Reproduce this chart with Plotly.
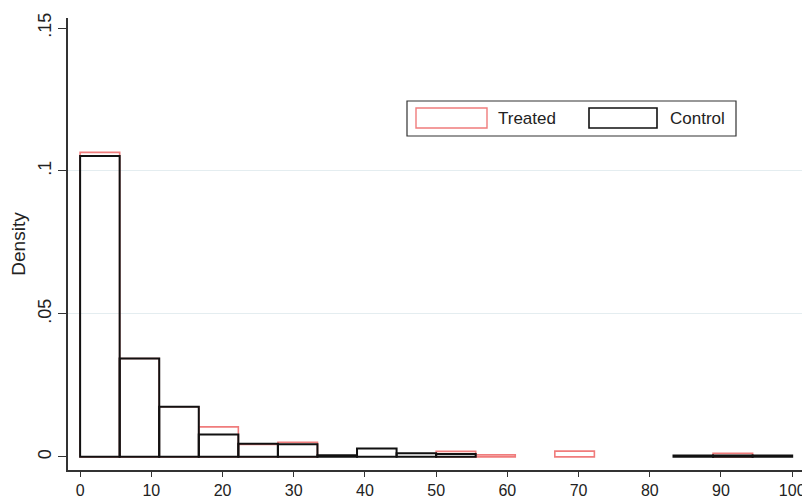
import plotly.graph_objects as go

# Histogram bins: 18 bins of width 100/18 over 0-100
n_bins = 18
bin_width = 100 / n_bins
bin_centers = [bin_width * (i + 0.5) for i in range(n_bins)]

# Densities (None = no bar)
treated = [0.1065, 0.0344, 0.0175, 0.0105, 0.0043, 0.0051, None, None, None,
           0.0019, 0.0007, None, 0.0020, None, None, None, 0.0012, None]
control = [0.1052, 0.0344, 0.0175, 0.0078, 0.0046, 0.0044, 0.0006, 0.0029, 0.0013,
           0.0010, None, None, None, None, None, 0.0005, 0.0005, 0.0005]

series_names = ["Treated", "Control"]
series_colors = ["#f07c7c", "#111111"]

x_ticks = [0, 10, 20, 30, 40, 50, 60, 70, 80, 90, 100]
y_ticks = [0, 0.05, 0.10, 0.15]
y_tick_labels = ["0", ".05", ".1", ".15"]
grid_values = [0.05, 0.10]

y_range = [-0.0046, 0.1535]

fig = go.Figure()
# invisible anchor trace for the grid axis (drawn beneath)
fig.add_trace(go.Scatter(x=[None], y=[None], yaxis="y2", showlegend=False, hoverinfo="skip"))
for name, vals, col, lw in zip(series_names, [treated, control], series_colors, [1.6, 2.0]):
    fig.add_trace(go.Bar(
        x=bin_centers, y=vals, width=bin_width, name=name, showlegend=False,
        marker=dict(color="rgba(0,0,0,0)", line=dict(color=col, width=lw)),
    ))

FONT = "Liberation Sans, Arial, Helvetica, sans-serif"

# The page body has an 8px margin, so the figure starts at (8, 8) in the window.
OFF = 8
W, H = 810 - OFF, 499 - OFF
PL, PR, PT, PB = 68, 805, 18, 470  # plot area in window pixels


def px(xp):
    return (xp - PL) / (PR - PL)


def py(yp):
    return 1 - (yp - PT) / (PB - PT)


shapes = [
    dict(type="rect", xref="paper", yref="paper", x0=px(407), x1=px(736), y0=py(136), y1=py(101),
         line=dict(color="#333333", width=1.2), fillcolor="white", layer="above"),
    dict(type="rect", xref="paper", yref="paper", x0=px(416), x1=px(487), y0=py(128), y1=py(108),
         line=dict(color=series_colors[0], width=1.4), fillcolor="rgba(0,0,0,0)", layer="above"),
    dict(type="rect", xref="paper", yref="paper", x0=px(589), x1=px(657), y0=py(128), y1=py(108),
         line=dict(color=series_colors[1], width=1.6), fillcolor="rgba(0,0,0,0)", layer="above"),
]
annotations = [
    dict(xref="paper", yref="paper", x=px(496), y=py(118), text=series_names[0], showarrow=False,
         xanchor="left", yanchor="middle", font=dict(family=FONT, size=17, color="#222222")),
    dict(xref="paper", yref="paper", x=px(668), y=py(118), text=series_names[1], showarrow=False,
         xanchor="left", yanchor="middle", font=dict(family=FONT, size=17, color="#222222")),
]

fig.update_layout(
    width=W, height=H,
    margin=dict(l=PL - OFF, r=810 - PR, t=PT - OFF, b=499 - PB),
    paper_bgcolor="white", plot_bgcolor="white",
    barmode="overlay",
    font=dict(family=FONT, size=18, color="#222222"),
    showlegend=False,
    shapes=shapes,
    annotations=annotations,
    xaxis=dict(
        range=[-1.7, 101.8], tickvals=x_ticks, ticks="outside", ticklen=5,
        tickcolor="#333333", tickwidth=1.3, showline=True, linecolor="#333333",
        linewidth=1.5, showgrid=False, zeroline=False, tickfont=dict(size=16),
        automargin=False,
    ),
    yaxis=dict(
        range=y_range, tickvals=y_ticks, ticktext=y_tick_labels,
        tickangle=-90, ticks="outside", ticklen=8, tickcolor="#333333",
        tickwidth=1.3, showline=True, linecolor="#333333", linewidth=1.5,
        showgrid=False, zeroline=False, automargin=False,
        tickfont=dict(size=18),
        title=dict(text="Density", font=dict(size=19), standoff=6),
    ),
    yaxis2=dict(
        range=y_range, overlaying="y", tickvals=grid_values, showticklabels=False,
        ticks="", showgrid=True, gridcolor="#e4edf0", gridwidth=1, zeroline=False,
        showline=False,
    ),
)

fig.write_html("out.html")
